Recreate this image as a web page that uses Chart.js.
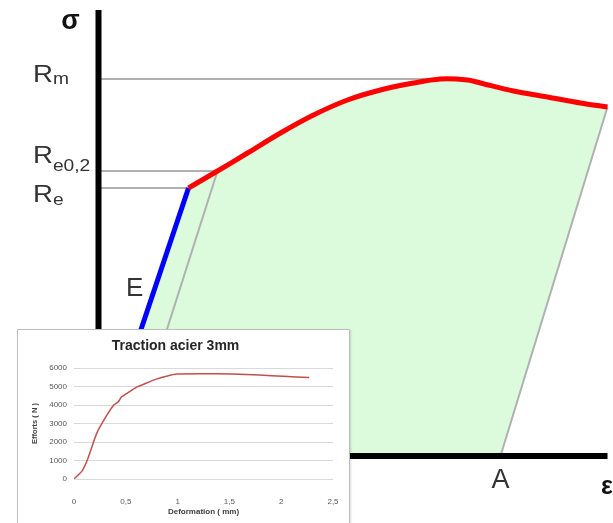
<!DOCTYPE html>
<html>
<head>
<meta charset="utf-8">
<script src="https://cdn.jsdelivr.net/npm/chart.js@4"></script>
<style>
  html, body { margin: 0; padding: 0; background: #fff; overflow: hidden; }
  #wrap { position: relative; width: 613px; height: 523px; }
  #main { position: absolute; left: 0; top: 0; }
  #inset {
    position: absolute; left: 17px; top: 329px; width: 333px; height: 200px;
    box-sizing: border-box; border: 1px solid #bdbdbd; background: #fff;
    box-shadow: 1px 1px 2px rgba(0,0,0,.15);
  }
  #inset canvas { display: block; }
</style>
</head>
<body>
<div id="wrap">
  <canvas id="main" width="613" height="523"></canvas>
  <div id="inset"><canvas id="traction" width="331" height="193"></canvas></div>
</div>
<script>
// schematic stress-strain diagram (arbitrary units)
const elasticEps = [0, 90];
const elasticSigma = [0, 268];
const plasticEps = [90, 119, 149, 182, 215, 249, 282, 315, 342, 369, 382, 415, 449, 482, 509];
const plasticSigma = [268, 285, 303, 323, 341, 356, 366, 373, 377, 376, 373, 365, 359, 353, 349];
const Rm = 377;
const Re02 = 285;
const Re = 268;
const offset02 = 28;
const epsA = 402;
const sigmaTop = 446;

// measured traction test, steel 3mm
const deformation = [0, 0.08, 0.135, 0.22, 0.31, 0.386, 0.43, 0.457, 0.505, 0.6, 0.7, 0.795, 0.89, 0.99, 1.21, 1.53, 1.79, 2.02, 2.27];
const efforts = [0, 450, 1120, 2480, 3380, 4010, 4190, 4430, 4610, 4950, 5190, 5400, 5550, 5670, 5690, 5670, 5620, 5550, 5490];
const xTicks = [0, 0.5, 1, 1.5, 2, 2.5];

Chart.defaults.font.family = '"Liberation Sans", Arial, sans-serif';

const pts = (xs, ys) => xs.map((v, i) => ({ x: v, y: ys[i] }));
const last = arr => arr[arr.length - 1];

const gray = '#b0b0b0';
const lineDs = (data, color, width, order, tension = 0) => ({
  data, borderColor: color, borderWidth: width, pointRadius: 0,
  fill: false, tension, order, borderJoinStyle: 'round'
});

const labelsPlugin = {
  id: 'diagramLabels',
  afterDraw(chart) {
    const { ctx, scales: { x, y } } = chart;
    const x0 = x.getPixelForValue(0);
    ctx.save();
    ctx.fillStyle = '#333';
    ctx.textBaseline = 'alphabetic';

    // R labels with subscripts, slightly stretched like the original
    const rLabel = (sub, value, dy, subDy) => {
      ctx.save();
      ctx.translate(x0 - 65.5, y.getPixelForValue(value) + dy);
      ctx.scale(1.2, 1);
      ctx.font = '23px "Liberation Sans", Arial, sans-serif';
      ctx.fillText('R', 0, 0);
      const w = ctx.measureText('R').width;
      ctx.font = '16px "Liberation Sans", Arial, sans-serif';
      ctx.fillText(sub, w, subDy);
      ctx.restore();
    };
    rLabel('m', Rm, 3, 2);
    rLabel('e0,2', Re02, -8, 8);
    rLabel('e', Re, 14, 3);

    ctx.fillStyle = '#111';
    ctx.font = 'bold 27px "Liberation Sans", Arial, sans-serif';
    ctx.textAlign = 'center';
    ctx.fillText('σ', x0 - 28, y.getPixelForValue(sigmaTop) + 19);

    ctx.fillStyle = '#333';
    ctx.font = '26px "Liberation Sans", Arial, sans-serif';
    ctx.textAlign = 'left';
    ctx.fillText('E', x.getPixelForValue(27.5), y.getPixelForValue(160));

    ctx.font = '27px "Liberation Sans", Arial, sans-serif';
    ctx.textAlign = 'center';
    ctx.fillText('A', x.getPixelForValue(epsA), y.getPixelForValue(0) + 32);

    ctx.fillStyle = '#111';
    ctx.font = 'bold 25px "Liberation Sans", Arial, sans-serif';
    ctx.textAlign = 'left';
    ctx.fillText('ε', x.getPixelForValue(502.5), y.getPixelForValue(0) + 38);
    ctx.restore();
  }
};

new Chart(document.getElementById('main').getContext('2d'), {
  type: 'line',
  data: {
    datasets: [
      lineDs(pts(plasticEps, plasticSigma), '#ff0000', 5, 1, 0.3),
      lineDs(pts(elasticEps, elasticSigma), '#0000ff', 5, 2),
      lineDs([{ x: 0, y: -67 }, { x: 0, y: sigmaTop }], '#000', 6, 3),
      lineDs([{ x: 0, y: 0 }, { x: last(plasticEps), y: 0 }], '#000', 6, 3),
      lineDs([{ x: 0, y: Rm }, { x: 342, y: Rm }], gray, 2, 4),
      lineDs([{ x: 0, y: Re02 }, { x: plasticEps[1], y: Re02 }], gray, 2, 4),
      lineDs([{ x: 0, y: Re }, { x: elasticEps[1], y: Re }], gray, 2, 4),
      lineDs([{ x: offset02, y: 0 }, { x: plasticEps[1], y: plasticSigma[1] }], gray, 2, 4),
      lineDs([{ x: epsA, y: 0 }, { x: last(plasticEps), y: last(plasticSigma) }], gray, 2, 4),
      {
        data: pts(elasticEps.concat(plasticEps.slice(1)), elasticSigma.concat(plasticSigma.slice(1))),
        borderWidth: 0, pointRadius: 0, tension: 0,
        backgroundColor: '#dcfadc', fill: '+1', order: 8
      },
      {
        data: [{ x: 0, y: 0 }, { x: epsA, y: 0 }, { x: last(plasticEps), y: last(plasticSigma) }],
        borderWidth: 0, pointRadius: 0, tension: 0, fill: false, order: 9
      }
    ]
  },
  options: {
    responsive: false,
    animation: false,
    layout: { padding: 0 },
    scales: {
      x: { type: 'linear', min: -98.5, max: 514.5, display: false },
      y: { type: 'linear', min: -67, max: 456, display: false }
    },
    plugins: { legend: { display: false }, tooltip: { enabled: false } }
  },
  plugins: [labelsPlugin]
});

new Chart(document.getElementById('traction').getContext('2d'), {
  type: 'line',
  data: {
    datasets: [{
      data: pts(deformation, efforts),
      borderColor: '#c0504d', borderWidth: 1.5, pointRadius: 0, tension: 0.2, fill: false
    }]
  },
  options: {
    responsive: false,
    animation: false,
    layout: { padding: { left: 0, right: 16, top: 0, bottom: 0 } },
    scales: {
      x: {
        type: 'linear', min: 0, max: 2.5,
        afterBuildTicks: s => { s.ticks = xTicks.map(v => ({ value: v })); },
        afterFit: s => { s.height = 44; },
        grid: { display: false },
        border: { display: false },
        ticks: {
          color: '#595959', font: { size: 8 }, padding: 10, maxRotation: 0,
          callback: v => String(v).replace('.', ',')
        },
        title: {
          display: true, text: 'Deformation ( mm)', color: '#404040',
          font: { size: 8, weight: 'bold' }, padding: { top: 0, bottom: 6 }
        }
      },
      y: {
        min: 0, max: 6000,
        afterFit: s => { s.width = 56; },
        border: { display: false },
        grid: { color: '#d9d9d9', drawTicks: false },
        ticks: {
          stepSize: 1000, color: '#595959', font: { size: 8 }, padding: 7,
          callback: v => String(v)
        },
        title: {
          display: true, text: 'Efforts ( N )', color: '#404040',
          font: { size: 7.5, weight: 'bold' }, padding: { top: 12, bottom: 0 }
        }
      }
    },
    plugins: {
      legend: { display: false },
      tooltip: { enabled: false },
      title: {
        display: true, text: 'Traction acier 3mm', color: '#262626',
        font: { size: 14, weight: 'bold' }, padding: { top: 8, bottom: 13.2 }
      }
    }
  }
});
</script>
</body>
</html>
